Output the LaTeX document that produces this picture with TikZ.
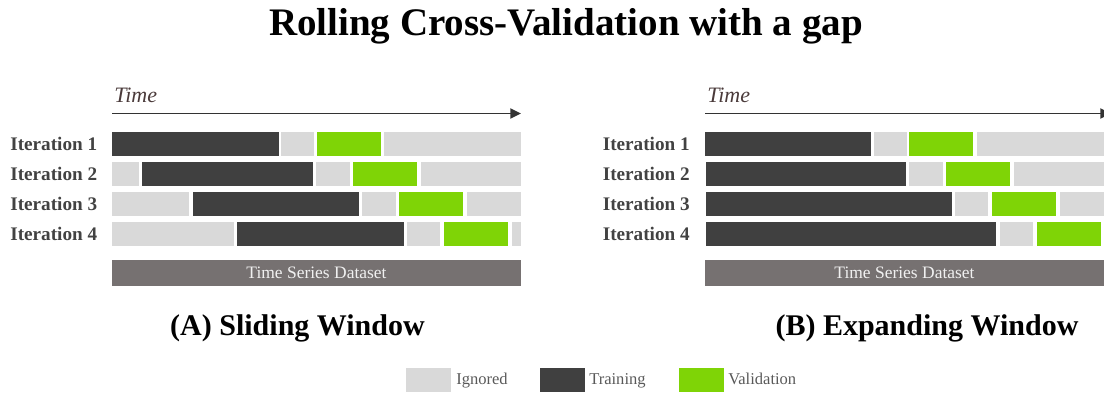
\documentclass[tikz,border=0pt]{standalone}
\usepackage{fontspec}
\setmainfont{Liberation Serif}
\usetikzlibrary{arrows.meta,fit}

\definecolor{ignoredgray}{HTML}{D9D9D9}
\definecolor{traingray}{HTML}{404040}
\definecolor{validgreen}{HTML}{7FD406}
\definecolor{datagray}{HTML}{767171}
\definecolor{labelgray}{HTML}{424242}
\definecolor{timebrown}{HTML}{4A3A3A}
\definecolor{legendgray}{HTML}{595959}

\tikzset{
  iterlabel/.style={anchor=east, inner sep=0pt, text=labelgray, font=\fontsize{14.4}{17}\selectfont\bfseries},
  timelabel/.style={anchor=base west, inner sep=0pt, text=timebrown, font=\fontsize{16.5}{20}\selectfont\itshape},
  timearrow/.style={draw=black!80, line width=1.4pt, -{Triangle[length=8pt,width=7.5pt]}},
  databar/.style={fill=datagray, inner sep=0pt, text=white!94!black, font=\fontsize{13.1}{16}\selectfont},
  subtitle/.style={anchor=base, inner sep=0pt, font=\fontsize{22.5}{27}\selectfont\bfseries},
  legendbox/.style={minimum width=33.75pt, minimum height=18pt, inner sep=0pt, anchor=west},
  legendtext/.style={anchor=base west, inner sep=0pt, text=legendgray, font=\fontsize{12.4}{15}\selectfont},
}

\begin{document}
\begin{tikzpicture}[x=0.75pt, y=-0.75pt]
        \useasboundingbox (0,0) rectangle (1104,394);

        % title
        \node[anchor=base, inner sep=0pt, font=\fontsize{29.25}{35}\selectfont\bfseries] (title) at (566,35) {Rolling Cross-Validation with a gap};

        % time axes
        \node[timelabel] (timeA) at (114,102.7) {Time};
        \node[timelabel] (timeB) at (707,102.7) {Time};
        \coordinate (tA0) at (112,113.5);
        \coordinate (tA1) at (521,113.5);
        \coordinate (tB0) at (705,113.5);
        \coordinate (tB1) at (1111,113.5);
        \draw[timearrow] (tA0) -- (tA1);
        \draw[timearrow] (tB0) -- (tB1);

        % iteration labels
        \foreach \i in {1,...,4} {
            \node[iterlabel] (itA\i) at (97.5,114+30*\i) {Iteration \i};
            \node[iterlabel] (itB\i) at (690,114+30*\i) {Iteration \i};
        }

        % sliding window
        \foreach \row/\segs in {
            132/{112/279/traingray, 281/314/ignoredgray, 317/381/validgreen, 384/521/ignoredgray},
            162/{112/139/ignoredgray, 142/313/traingray, 316/350/ignoredgray, 353/417/validgreen, 421/521/ignoredgray},
            192/{112/189/ignoredgray, 193/359/traingray, 362/396/ignoredgray, 399/463/validgreen, 467/521/ignoredgray},
            222/{112/234/ignoredgray, 237/404/traingray, 407/440/ignoredgray, 444/508/validgreen, 512/521/ignoredgray}} {
            \foreach \a/\b/\c in \segs {
                \fill[\c] (\a,\row) rectangle (\b,\row+24);
            }
        }

        % expanding window
        \foreach \row/\segs in {
            132/{705/871/traingray, 874/907/ignoredgray, 909/973/validgreen, 977/1104/ignoredgray},
            162/{706/906/traingray, 909/943/ignoredgray, 946/1010/validgreen, 1014/1104/ignoredgray},
            192/{706/952/traingray, 955/988/ignoredgray, 992/1056/validgreen, 1060/1104/ignoredgray},
            222/{706/996/traingray, 1000/1033/ignoredgray, 1037/1101/validgreen}} {
            \foreach \a/\b/\c in \segs {
                \fill[\c] (\a,\row) rectangle (\b,\row+24);
            }
        }

        % dataset bars
        \node[databar, fit={(112,260) (521,286)}] (dataA) {};
        \node[databar, fit={(705,260) (1104,286)}] (dataB) {};
        \node[inner sep=0pt, anchor=base, text=white!94!black, font=\fontsize{13.1}{16}\selectfont] (dataAtext) at (316.5,278.5) {Time Series Dataset};
        \node[inner sep=0pt, anchor=base, text=white!94!black, font=\fontsize{13.1}{16}\selectfont] (dataBtext) at (904.5,278.5) {Time Series Dataset};

        % subtitles
        \node[subtitle] (subA) at (297.5,335) {(A) Sliding Window};
        \node[subtitle] (subB) at (927,335) {(B) Expanding Window};

        % legend
        \node[legendbox, fill=ignoredgray] (legI) at (406,380) {};
        \node[legendtext] (legItext) at (456,384.5) {Ignored};
        \node[legendbox, fill=traingray] (legT) at (540,380) {};
        \node[legendtext] (legTtext) at (589,384.5) {Training};
        \node[legendbox, fill=validgreen] (legV) at (679,380) {};
        \node[legendtext] (legVtext) at (728,384.5) {Validation};
    \end{tikzpicture}
\end{document}
